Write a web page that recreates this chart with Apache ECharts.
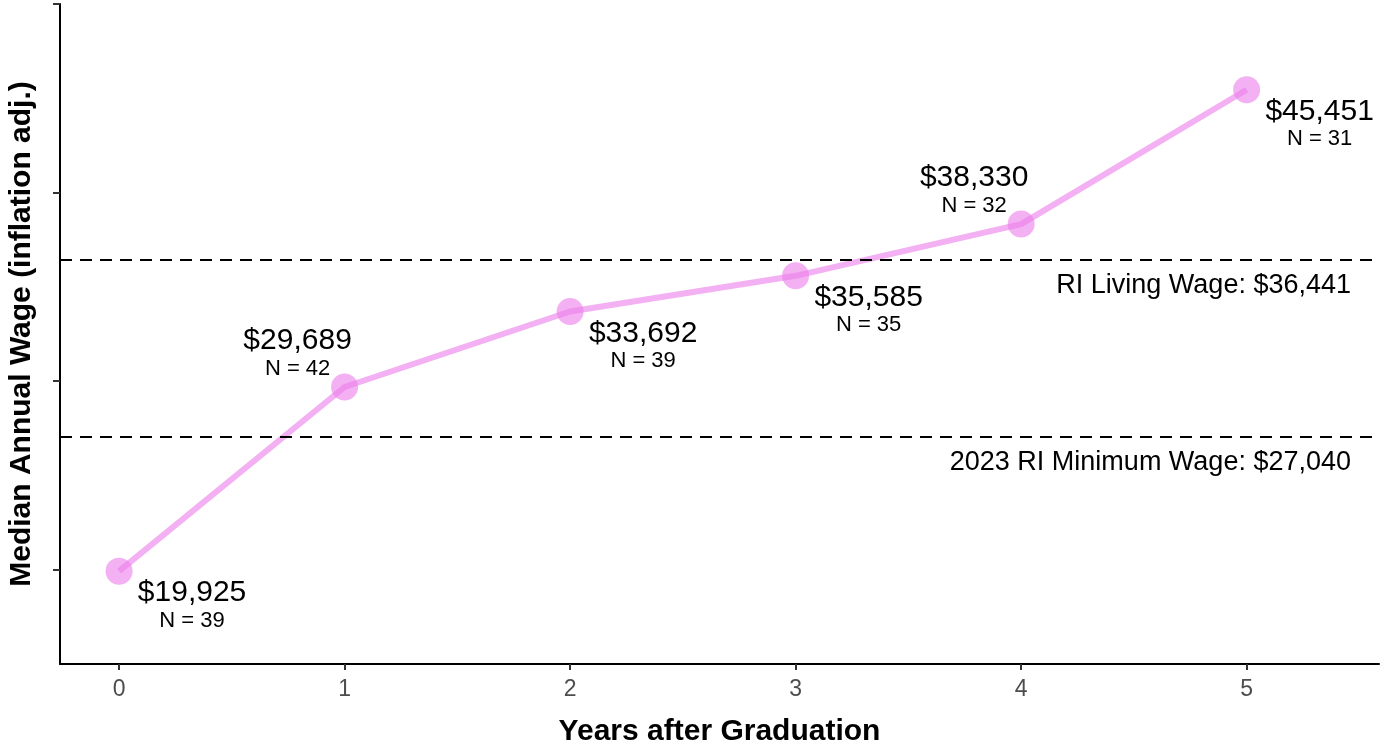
<!DOCTYPE html>
<html>
<head>
<meta charset="utf-8">
<script src="https://cdn.jsdelivr.net/npm/echarts@6/dist/echarts.min.js"></script>
<style>
  html, body { margin: 0; padding: 0; background: #ffffff; }
  #chart { width: 1381px; height: 745px; }
</style>
</head>
<body>
<div id="chart"></div>
<script>
// ---- data ----
const years = [0, 1, 2, 3, 4, 5];
const medianWage = [19925, 29689, 33692, 35585, 38330, 45451];
const sampleN = [39, 42, 39, 35, 32, 31];
const refLineValues = [36441, 27040];
const refLineNames = ['RI Living Wage', '2023 RI Minimum Wage'];
const xTickLabels = [0, 1, 2, 3, 4, 5];
const yTickValues = [20000, 30000, 40000, 50000];

// ---- label placement (layout, not data) ----
const labelAbove = [false, true, false, false, true, false];

const FONT = 'Liberation Sans, Arial, Helvetica, sans-serif';
const PINK = 'rgba(236,128,234,0.62)';
const fmt = v => '$' + v.toLocaleString('en-US');

const chart = echarts.init(document.getElementById('chart'), null, { renderer: 'canvas' });

const seriesData = years.map((x, i) => ({
  value: [x, medianWage[i], sampleN[i]],
  label: { offset: labelAbove[i] ? [-47, -34] : [73, 34] }
}));

const option = {
  backgroundColor: '#ffffff',
  animation: false,
  grid: { left: 60, right: 2, top: 4, bottom: 81, containLabel: false, outerBoundsMode: 'none' },
  xAxis: {
    type: 'value',
    min: -0.262,
    max: 5.587,
    name: 'Years after Graduation',
    nameLocation: 'middle',
    nameGap: 53,
    nameTextStyle: { fontFamily: FONT, fontWeight: 'bold', fontSize: 30, color: '#000' },
    axisLine: { show: true, onZero: false, lineStyle: { color: '#000', width: 2 } },
    axisTick: { show: true, length: 6, customValues: xTickLabels, lineStyle: { color: '#333', width: 2 } },
    axisLabel: { show: true, customValues: xTickLabels, fontFamily: FONT, fontSize: 23, color: '#4d4d4d', margin: 14 },
    splitLine: { show: false }
  },
  yAxis: {
    type: 'value',
    min: 15000,
    max: 50000,
    name: 'Median Annual Wage (inflation adj.)',
    nameLocation: 'middle',
    nameGap: 23,
    nameTextStyle: { fontFamily: FONT, fontWeight: 'bold', fontSize: 30, color: '#000' },
    axisLine: { show: true, onZero: false, lineStyle: { color: '#000', width: 2 } },
    axisTick: { show: true, length: 7, customValues: yTickValues, lineStyle: { color: '#333', width: 2 } },
    axisLabel: { show: false },
    splitLine: { show: false }
  },
  series: [{
    type: 'line',
    data: seriesData,
    symbol: 'circle',
    symbolSize: 27,
    color: PINK,
    lineStyle: { color: PINK, width: 6 },
    itemStyle: { color: PINK },
    emphasis: { disabled: true },
    z: 3,
    label: {
      show: true,
      position: 'inside',
      align: 'center',
      verticalAlign: 'middle',
      formatter: p => '{a|' + fmt(p.value[1]) + '}\n{b|N = ' + p.value[2] + '}',
      rich: {
        a: { fontFamily: FONT, fontSize: 30, color: '#000', lineHeight: 31, align: 'center' },
        b: { fontFamily: FONT, fontSize: 22, color: '#000', lineHeight: 24, align: 'center' }
      }
    },
    markLine: {
      silent: true,
      symbol: 'none',
      animation: false,
      lineStyle: { color: '#000', width: 2, type: [12, 8] },
      label: {
        show: true,
        position: 'insideEndBottom',
        fontFamily: FONT,
        fontSize: 27,
        color: '#000',
        distance: [28, 12]
      },
      data: refLineValues.map((v, i) => ({
        yAxis: v,
        label: { formatter: refLineNames[i] + ': ' + fmt(v) }
      }))
    }
  }]
};

chart.setOption(option);
</script>
</body>
</html>
